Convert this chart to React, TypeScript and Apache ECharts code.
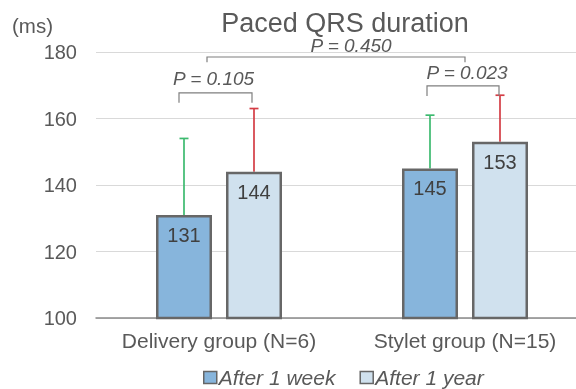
import React, { useEffect, useRef } from "react";
import * as echarts from "echarts";

const categories = ["Delivery group (N=6)", "Stylet group (N=15)"];
const weekValues = [131, 145];
const yearValues = [144, 153];
const weekHigh = [154, 161];
const yearHigh = [163, 167];
const seriesNames = ["After 1 week", "After 1 year"];
const yTicks = { min: 100, max: 180, interval: 20 };
const unitLabel = "(ms)";
const titleText = "Paced QRS duration";
const pLabels = ["0.105", "0.023", "0.450"];
const bracketLevels = [167.7, 169.8, 178.5];
const bracketTextLevels = [172, 173.8, 182.1];

const FONT = 'Arial, "Liberation Sans", sans-serif';
const TXT = "#595959";

export default function App() {
  const ref = useRef<HTMLDivElement>(null);
  useEffect(() => {
    const chart = echarts.init(ref.current!, null, { renderer: "svg" });
    const barOff = 35;
    const bracketGeom = [
      { c1: 0, o1: -40, c2: 0, o2: 33, drop: 3, dx: -2 },
      { c1: 1, o1: -38, c2: 1, o2: 34, drop: 3, dx: 4 },
      { c1: 0, o1: -12, c2: 1, o2: 0, drop: 1.6, dx: 15 },
    ];
    const errData = [
      ...weekValues.map((v, i) => [i, v, weekHigh[i], -barOff, 0]),
      ...yearValues.map((v, i) => [i, v, yearHigh[i], barOff, 1]),
    ];
    chart.setOption({
      animation: false,
      textStyle: { fontFamily: FONT },
      title: {
        text: titleText,
        left: 340,
        textAlign: "center",
        top: 4,
        textStyle: { fontSize: 27, fontWeight: "normal", color: TXT, fontFamily: FONT },
      },
      graphic: [
        {
          type: "text",
          left: 12,
          top: 15,
          style: { text: unitLabel, fontSize: 20.5, fill: TXT, fontFamily: FONT },
        },
      ],
      legend: {
        left: 203,
        top: 367,
        padding: 0,
        itemWidth: 13,
        itemHeight: 12,
        itemGap: 24,
        icon: "rect",
        itemStyle: { borderWidth: 1.5, borderColor: "#666" },
        textStyle: { fontSize: 21, fontStyle: "italic", color: TXT, fontFamily: FONT, padding: [0, 0, 0, -3] },
        data: seriesNames,
      },
      grid: { left: 96, top: 52, width: 492, height: 266 },
      xAxis: {
        type: "category",
        data: categories,
        axisLine: { lineStyle: { color: "#8a8a8a", width: 1.5 } },
        axisTick: { show: false },
        axisLabel: { fontSize: 21, color: TXT, margin: 12, interval: 0, fontFamily: FONT },
      },
      yAxis: {
        type: "value",
        min: yTicks.min,
        max: yTicks.max,
        interval: yTicks.interval,
        axisLine: { show: false },
        axisTick: { show: false },
        axisLabel: { fontSize: 20, color: TXT, margin: 19, fontFamily: FONT },
        splitLine: { lineStyle: { color: "#d9d9d9", width: 1 } },
      },
      series: [
        {
          name: seriesNames[0],
          type: "bar",
          data: weekValues,
          barWidth: 56,
          barGap: "25%",
          itemStyle: { color: "#87b5dc", borderColor: "#676767", borderWidth: 2.5 },
          label: {
            show: true,
            position: "insideTop",
            distance: 10,
            fontSize: 20,
            color: "#404040",
            fontFamily: FONT,
          },
        },
        {
          name: seriesNames[1],
          type: "bar",
          data: yearValues,
          barWidth: 56,
          barGap: "25%",
          itemStyle: { color: "#d0e1ee", borderColor: "#676767", borderWidth: 2.5 },
          label: {
            show: true,
            position: "insideTop",
            distance: 10,
            fontSize: 20,
            color: "#404040",
            fontFamily: FONT,
          },
        },
        {
          type: "custom",
          clip: false,
          silent: true,
          z: 1,
          data: errData,
          renderItem: (params: any, api: any) => {
            const cat = api.value(0);
            const base = api.coord([cat, api.value(1)]);
            const top = api.coord([cat, api.value(2)]);
            const off = api.value(3);
            const color = api.value(4) === 0 ? "#3dba6f" : "#d43d45";
            const x = base[0] + off;
            return {
              type: "group",
              children: [
                {
                  type: "line",
                  shape: { x1: x, y1: base[1], x2: x, y2: top[1] },
                  style: { stroke: color, lineWidth: 1.7 },
                },
                {
                  type: "line",
                  shape: { x1: x - 4.5, y1: top[1], x2: x + 4.5, y2: top[1] },
                  style: { stroke: color, lineWidth: 1.7 },
                },
              ],
            };
          },
        },
        {
          type: "custom",
          clip: false,
          silent: true,
          z: 3,
          data: bracketLevels.map((lv, i) => [bracketGeom[i].c1, lv]),
          renderItem: (params: any, api: any) => {
            const i = params.dataIndex;
            const g = bracketGeom[i];
            const lv = bracketLevels[i];
            const p1 = api.coord([g.c1, lv]);
            const p2 = api.coord([g.c2, lv]);
            const yLeg = api.coord([g.c1, lv - g.drop])[1];
            const yText = api.coord([g.c1, bracketTextLevels[i]])[1];
            const x1 = p1[0] + g.o1;
            const x2 = p2[0] + g.o2;
            return {
              type: "group",
              children: [
                {
                  type: "polyline",
                  shape: { points: [[x1, yLeg], [x1, p1[1]], [x2, p1[1]], [x2, yLeg]] },
                  style: { stroke: "#7f7f7f", lineWidth: 1.2, fill: null },
                },
                {
                  type: "text",
                  x: (x1 + x2) / 2 + g.dx,
                  y: yText,
                  style: {
                    text: "P = " + pLabels[i],
                    fontSize: 19,
                    fontStyle: "italic",
                    fill: TXT,
                    fontFamily: FONT,
                    align: "center",
                    verticalAlign: "middle",
                  },
                },
              ],
            };
          },
        },
      ],
    });
    return () => chart.dispose();
  }, []);
  return <div ref={ref} style={{ width: 600, height: 389, position: "fixed", left: 0, top: 0 }} />;
}
